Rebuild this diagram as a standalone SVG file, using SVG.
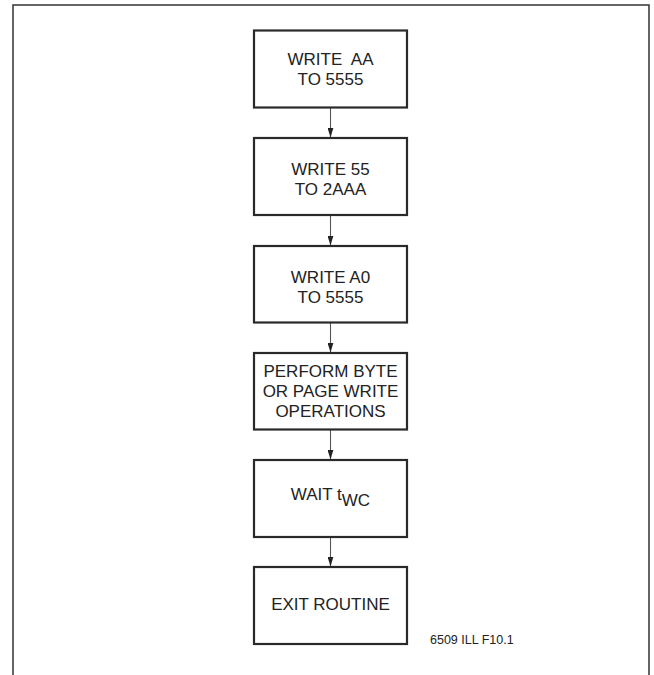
<svg xmlns="http://www.w3.org/2000/svg" width="654" height="675" viewBox="0 0 654 675">
<defs>
<style>
.box{fill:#fff;stroke:#2a2a2a;stroke-width:2.2}
.t{font-family:"Liberation Sans",Arial,sans-serif;font-size:17px;fill:#222;text-anchor:middle}
.lbl{font-family:"Liberation Sans",Arial,sans-serif;font-size:12.5px;fill:#222}
.edge{stroke:#555;stroke-width:1.1;fill:none}
</style>
<marker id="ah" viewBox="0 0 10 6" refX="10" refY="3" markerWidth="10" markerHeight="6" markerUnits="userSpaceOnUse" orient="auto">
<path d="M0,0 L10,3 L0,6 Z" fill="#222"/>
</marker>
</defs>
<rect width="654" height="675" fill="#fff"/>
<path d="M13,675 V5 H649 V675" fill="none" stroke="#333" stroke-width="1.5"/>
<g id="connectors">
<line class="edge" x1="330.5" y1="107.5" x2="330.5" y2="137.5" marker-end="url(#ah)"/>
<line class="edge" x1="330.5" y1="215" x2="330.5" y2="245.5" marker-end="url(#ah)"/>
<line class="edge" x1="330.5" y1="322.5" x2="330.5" y2="352.5" marker-end="url(#ah)"/>
<line class="edge" x1="330.5" y1="429.5" x2="330.5" y2="459.5" marker-end="url(#ah)"/>
<line class="edge" x1="330.5" y1="537" x2="330.5" y2="566.5" marker-end="url(#ah)"/>
</g>
<g id="n1">
<rect class="box" x="254" y="30.5" width="153" height="77"/>
<text class="t" x="330.5" y="64.5" xml:space="preserve">WRITE  AA</text>
<text class="t" x="330.5" y="84.5">TO 5555</text>
</g>
<g id="n2">
<rect class="box" x="254" y="138" width="153" height="77"/>
<text class="t" x="330.5" y="175">WRITE 55</text>
<text class="t" x="330.5" y="194.5">TO 2AAA</text>
</g>
<g id="n3">
<rect class="box" x="254" y="246" width="153" height="76.5"/>
<text class="t" x="330.5" y="283">WRITE A0</text>
<text class="t" x="330.5" y="302.5">TO 5555</text>
</g>
<g id="n4">
<rect class="box" x="254" y="353" width="153" height="76.5"/>
<text class="t" x="330.5" y="377">PERFORM BYTE</text>
<text class="t" x="330.5" y="397">OR PAGE WRITE</text>
<text class="t" x="330.5" y="417">OPERATIONS</text>
</g>
<g id="n5">
<rect class="box" x="254" y="460" width="153" height="77"/>
<text class="t" x="330.5" y="500">WAIT t<tspan dy="6">WC</tspan></text>
</g>
<g id="n6">
<rect class="box" x="254" y="567" width="153" height="77"/>
<text class="t" x="330.5" y="610">EXIT ROUTINE</text>
</g>
<text class="lbl" x="430" y="644">6509 ILL F10.1</text>
</svg>
